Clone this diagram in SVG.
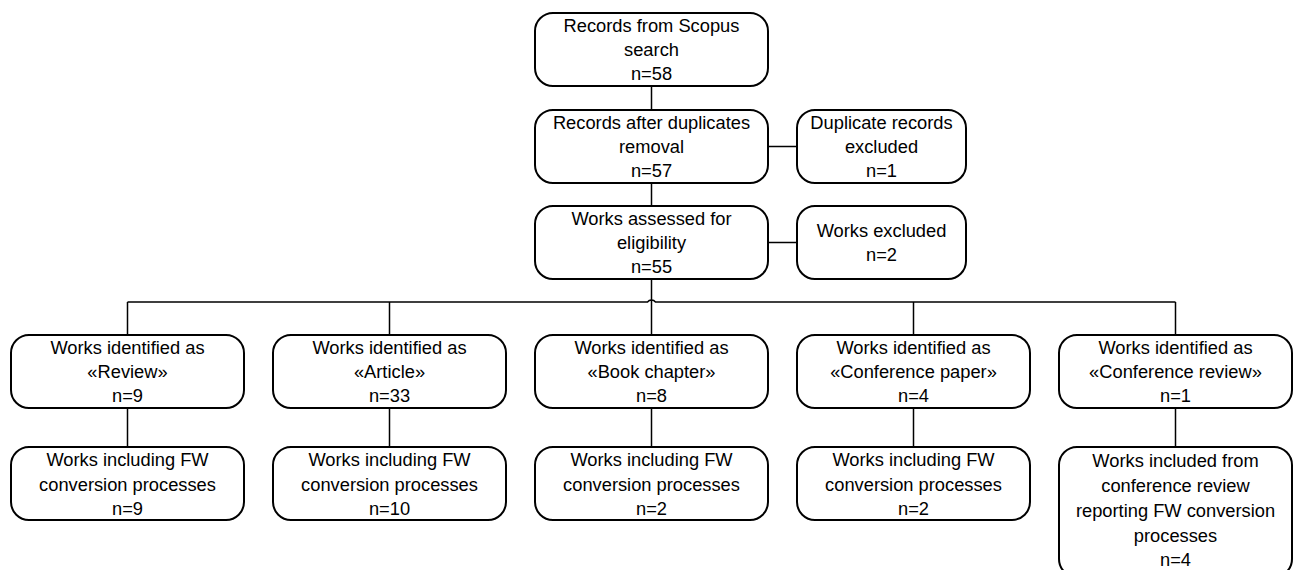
<svg xmlns="http://www.w3.org/2000/svg" width="1293" height="570" viewBox="0 0 1293 570">
<style>
.box{fill:#fff;stroke:#000;stroke-width:2}
.ln{fill:none;stroke:#000;stroke-width:1.5}
text{font-family:"Liberation Sans",Arial,sans-serif;font-size:18.3px;fill:#000;text-anchor:middle;dominant-baseline:central}
</style>
<rect width="1293" height="570" fill="#fff"/>
<g id="connectors">
<path class="ln" d="M651.5 86V110M651.5 183V206M768 146.5H797M768 242.5H797"/>
<path class="ln" d="M651.5 279V335"/>
<path class="ln" d="M127.5 302H647.5A5 5 0 0 1 655.5 302H1175.5"/>
<path class="ln" d="M127.5 302V335M389.5 302V335M913.5 302V335M1175.5 302V335"/>
<path class="ln" d="M127.5 408V447M389.5 408V447M651.5 408V447M913.5 408V447M1175.5 408V447"/>
</g>
<g id="n1"><rect class="box" x="535" y="13" width="233" height="73" rx="18"/><text x="651.5" y="25">Records from Scopus</text><text x="651.5" y="49">search</text><text x="651.5" y="73">n=58</text></g>
<g id="n2"><rect class="box" x="535" y="110" width="233" height="73" rx="18"/><text x="651.5" y="122">Records after duplicates</text><text x="651.5" y="146">removal</text><text x="651.5" y="170">n=57</text></g>
<g id="n3"><rect class="box" x="797" y="110" width="169" height="73" rx="18"/><text x="881.5" y="122">Duplicate records</text><text x="881.5" y="146">excluded</text><text x="881.5" y="170">n=1</text></g>
<g id="n4"><rect class="box" x="535" y="206" width="233" height="73" rx="18"/><text x="651.5" y="218">Works assessed for</text><text x="651.5" y="242">eligibility</text><text x="651.5" y="266">n=55</text></g>
<g id="n5"><rect class="box" x="797" y="206" width="169" height="73" rx="18"/><text x="881.5" y="230">Works excluded</text><text x="881.5" y="254">n=2</text></g>
<g id="n6"><rect class="box" x="11" y="335" width="233" height="73" rx="18"/><text x="127.5" y="347">Works identified as</text><text x="127.5" y="371">«Review»</text><text x="127.5" y="395">n=9</text></g>
<g id="n7"><rect class="box" x="273" y="335" width="233" height="73" rx="18"/><text x="389.5" y="347">Works identified as</text><text x="389.5" y="371">«Article»</text><text x="389.5" y="395">n=33</text></g>
<g id="n8"><rect class="box" x="535" y="335" width="233" height="73" rx="18"/><text x="651.5" y="347">Works identified as</text><text x="651.5" y="371">«Book chapter»</text><text x="651.5" y="395">n=8</text></g>
<g id="n9"><rect class="box" x="797" y="335" width="233" height="73" rx="18"/><text x="913.5" y="347">Works identified as</text><text x="913.5" y="371">«Conference paper»</text><text x="913.5" y="395">n=4</text></g>
<g id="n10"><rect class="box" x="1059" y="335" width="233" height="73" rx="18"/><text x="1175.5" y="347">Works identified as</text><text x="1175.5" y="371">«Conference review»</text><text x="1175.5" y="395">n=1</text></g>
<g id="n11"><rect class="box" x="11" y="447" width="233" height="73" rx="18"/><text x="127.5" y="459">Works including FW</text><text x="127.5" y="484">conversion processes</text><text x="127.5" y="508">n=9</text></g>
<g id="n12"><rect class="box" x="273" y="447" width="233" height="73" rx="18"/><text x="389.5" y="459">Works including FW</text><text x="389.5" y="484">conversion processes</text><text x="389.5" y="508">n=10</text></g>
<g id="n13"><rect class="box" x="535" y="447" width="233" height="73" rx="18"/><text x="651.5" y="459">Works including FW</text><text x="651.5" y="484">conversion processes</text><text x="651.5" y="508">n=2</text></g>
<g id="n14"><rect class="box" x="797" y="447" width="233" height="73" rx="18"/><text x="913.5" y="459">Works including FW</text><text x="913.5" y="484">conversion processes</text><text x="913.5" y="508">n=2</text></g>
<g id="n15"><rect class="box" x="1059" y="447" width="233" height="130" rx="18"/><text x="1175.5" y="460">Works included from</text><text x="1175.5" y="485">conference review</text><text x="1175.5" y="510">reporting FW conversion</text><text x="1175.5" y="535">processes</text><text x="1175.5" y="559">n=4</text></g>
</svg>
